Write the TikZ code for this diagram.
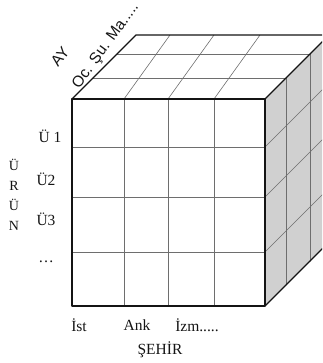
\documentclass[tikz,border=0pt]{standalone}
\usepackage{fontspec}
\setmainfont{Liberation Serif}
\newfontfamily\sansf{Liberation Sans}
\usetikzlibrary{positioning}
\definecolor{fg}{RGB}{20,20,20}
\definecolor{mu}{RGB}{110,110,110}
\definecolor{side}{RGB}{208,208,208}
\tikzset{
  every picture/.style={fg, line cap=round, line join=round},
  every node/.style={font=\fontsize{15.5}{17}\selectfont, inner sep=1pt},
  % Linientypen
  edge/.style={line width=1.3pt},
  grid/.style={mu, line width=0.6pt},
  % Beschriftung
  lbl/.style={text=fg},
  slbl/.style={text=fg, font=\sansf\fontsize{15.5}{17}\selectfont},
}
\begin{document}
\begin{tikzpicture}[x=1pt, y=-1pt]
  \useasboundingbox (0,0) rectangle (322,363);
  \clip (0,0) rectangle (322,363);
  % Vorderseite: links, rechts, oben, unten; Tiefe
  \def\xl{72} \def\xr{265} \def\yt{99} \def\yb{306}
  \def\d{64}
  % Seitenfläche
  \fill[side] (\xr,\yt) -- ++(\d,-\d) -- (\xr+\d,\yb-\d) -- (\xr,\yb) -- cycle;
  \foreach \f in {0.33,0.7}
    \draw[grid] (\xr+\d*\f,\yt-\d*\f) -- (\xr+\d*\f,\yb-\d*\f);
  \foreach \r in {147,197,252}
    \draw[grid] (\xr,\r) -- ++(\d,-\d);
  % Deckfläche
  \foreach \f in {0.33,0.7}
    \draw[grid] (\xl+\d*\f,\yt-\d*\f) -- (\xr+\d*\f,\yt-\d*\f);
  \foreach \c in {124,168,214}
    \draw[grid] (\c,\yt) -- (\c+46,\yt-\d);
  % Vorderseite: Raster
  \foreach \c in {124,168,214}
    \draw[grid] (\c,\yt) -- (\c,\yb);
  \foreach \r in {147,197,252}
    \draw[grid] (\xl,\r) -- (\xr,\r);
  % Kanten
  \draw[edge] (\xl,\yt) rectangle (\xr,\yb);
  \draw[edge] (\xl,\yt) -- ++(\d,-\d) -- (\xr+\d,\yt-\d);
  \draw[edge] (\xr,\yt) -- ++(\d,-\d);
  \draw[edge] (\xr,\yb) -- ++(\d,-\d);
  % Beschriftung AY
  \node[slbl, rotate=52] (ay) at (60,57) {AY};
  \node[slbl, rotate=54] (ayv) at (106,46) {Oc. Şu. Ma.....};
  % Beschriftung ÜRÜN
  \node[lbl] (u1) at (50,136) {Ü 1};
  \node[lbl] (u2) at (46,179) {Ü2};
  \node[lbl] (u3) at (46,219) {Ü3};
  \node[lbl] (u4) at (46,262) {\dots};
  \node[lbl, align=center, font=\fontsize{14}{20}\selectfont] (urun) at (14,195) {Ü\\R\\Ü\\N};
  % Beschriftung ŞEHİR
  \node[lbl] (ist) at (79,325) {İst};
  \node[lbl] (ank) at (137,325) {Ank};
  \node[lbl] (izm) at (197,325) {İzm.....};
  \node[lbl] (sehir) at (160,350) {ŞEHİR};
\end{tikzpicture}
\end{document}
